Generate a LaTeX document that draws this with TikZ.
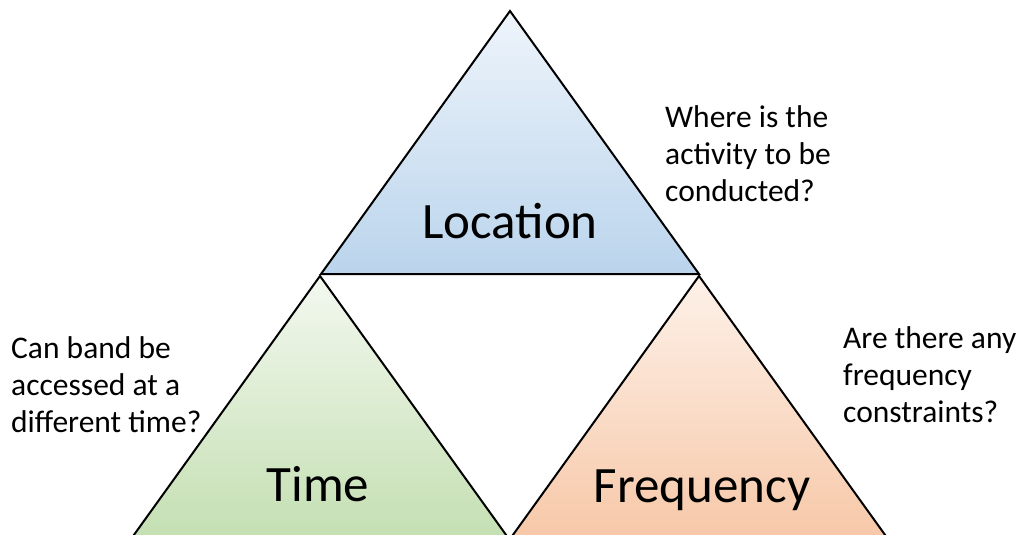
\documentclass[tikz,border=0pt]{standalone}
\usepackage{fontspec}
\setmainfont{Carlito}
\begin{document}
\begin{tikzpicture}[x=1pt,y=-1pt,
  tri/.style={draw=black, line width=2pt, line join=miter},
  big/.style={font=\fontsize{51}{60}\selectfont, inner sep=0pt, anchor=base},
  question/.style={font=\fontsize{31.5}{37}\selectfont, inner sep=0pt, anchor=base west, align=flush left, text width=240pt}]
\useasboundingbox (0,0) rectangle (1020,535);
\clip (0,0) rectangle (1020,535);
% corners
\coordinate (LocTop) at (510,11);
\coordinate (LocL) at (321,274);
\coordinate (LocR) at (699,274);
\coordinate (TimeTop) at (320,276);
\coordinate (TimeL) at (131,539);
\coordinate (TimeR) at (509,539);
\coordinate (FreqTop) at (699,276);
\coordinate (FreqL) at (510,539);
\coordinate (FreqR) at (888,539);
% triangles
\draw[tri, top color={rgb,255:red,238;green,244;blue,251}, bottom color={rgb,255:red,186;green,212;blue,236}]
  (LocTop) -- (LocR) -- (LocL) -- cycle;
\draw[tri, top color={rgb,255:red,243;green,248;blue,239}, bottom color={rgb,255:red,196;green,223;blue,178}]
  (TimeTop) -- (TimeR) -- (TimeL) -- cycle;
\draw[tri, top color={rgb,255:red,253;green,241;blue,233}, bottom color={rgb,255:red,247;green,200;blue,168}]
  (FreqTop) -- (FreqR) -- (FreqL) -- cycle;
% labels
\node[big] (loc) at (510,238) {Location};
\node[big] (time) at (318,501) {Time};
\node[big] (freq) at (702,502) {Frequency};
% questions
\node[question] (qloc) at (665,127) {Where is the\\activity to be\\conducted?};
\node[question] (qtime) at (11,358) {Can band be\\accessed at a\\different time?};
\node[question] (qfreq) at (843,348) {Are there any\\frequency\\constraints?};
\end{tikzpicture}
\end{document}
